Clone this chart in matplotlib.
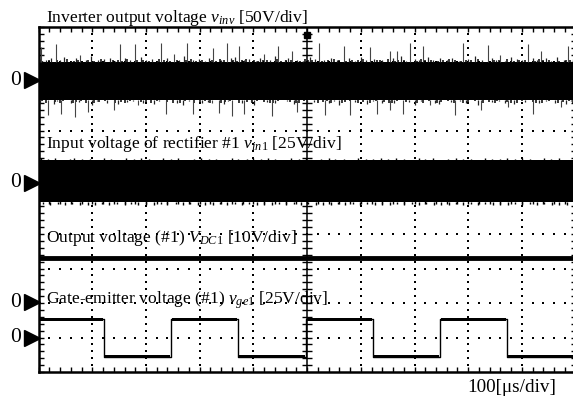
import numpy as np
import matplotlib
matplotlib.use("Agg")
import matplotlib.pyplot as plt

plt.rcParams['font.family'] = ['Liberation Serif', 'DejaVu Serif']
plt.rcParams['mathtext.fontset'] = 'custom'
plt.rcParams['mathtext.rm'] = 'Liberation Serif'
plt.rcParams['mathtext.it'] = 'Liberation Serif:italic'
plt.rcParams['mathtext.bf'] = 'Liberation Serif:bold'

# ---------------- scope settings ----------------
time_per_div = 100.0          # us/div
n_hdiv = 10
n_vdiv = 10
ch_zero = [8.45, 5.49, 2.02, 0.99]     # ground marker level of each channel [div]
ch_scale = [50.0, 25.0, 10.0, 25.0]    # V/div

# ---------------- Ch1: inverter output voltage v_inv ----------------
vinv_band = [-28.5, 27.0]
vinv_up_t = [5, 32, 78, 151, 179, 228, 253, 277, 325, 350, 373, 420, 446, 472,
             523, 569, 617, 654, 667, 691, 716, 790, 837, 859, 911, 936, 986]
vinv_up_v = [49, 53, 37, 53, 53, 55, 39, 54, 47, 54, 50, 39, 50, 42,
             54, 50, 49, 42, 42, 54, 50, 55, 52, 37, 53, 42, 50]
vinv_dn_t = [17, 41, 67, 92, 140, 185, 238, 288, 322, 336, 360, 383, 434, 481,
             533, 580, 630, 654, 679, 728, 775, 824, 874, 921, 973]
vinv_dn_v = [-50, -48, -53, -45, -43, -35, -48, -48, -33, -47, -52, -48, -52, -45,
             -50, -50, -48, -43, -48, -36, -50, -43, -39, -48, -38]
vinv_fz_up_t = [2, 14, 23, 40, 47, 60, 70, 88, 97, 110, 122, 133, 142, 160, 170, 190,
                200, 212, 220, 240, 262, 270, 288, 298, 310, 318, 340, 358, 365, 382,
                392, 405, 412, 430, 440, 458, 465, 482, 492, 505, 515, 532, 545, 555,
                578, 590, 600, 610, 625, 640, 660, 675, 685, 700, 708, 725, 735, 748,
                760, 770, 782, 800, 812, 825, 845, 852, 868, 880, 890, 900, 920, 928,
                945, 955, 965, 978, 995]
vinv_fz_up_v = [31, 29, 33, 30, 34, 28, 32, 30, 35, 29, 31, 33, 28, 32, 30, 34,
                29, 31, 28, 33, 30, 35, 29, 31, 28, 33, 30, 32, 34, 29,
                31, 28, 33, 30, 35, 29, 32, 30, 28, 34, 31, 29, 33, 30,
                32, 28, 34, 30, 31, 29, 33, 35, 28, 31, 30, 34, 29, 32,
                30, 33, 28, 31, 35, 29, 32, 30, 28, 34, 31, 29, 33, 30,
                32, 28, 34, 30, 31]
vinv_fz2_up_t = [7, 19, 27, 35, 52, 65, 74, 83, 92, 104, 116, 127, 138, 147, 155, 165,
                 175, 184, 195, 206, 216, 225, 234, 245, 257, 266, 275, 283, 293, 304,
                 314, 322, 330, 337, 345, 354, 362, 370, 378, 387, 397, 402, 409, 417,
                 425, 435, 444, 452, 461, 470, 478, 487, 497, 501, 510, 519, 527, 538,
                 550, 560, 566, 573, 583, 595, 605, 615, 620, 630, 635, 645, 650, 663,
                 670, 680, 695, 704, 713, 720, 730, 740, 744, 754, 765, 775, 779, 787,
                 795, 806, 818, 830, 840, 848, 857, 863, 873, 885, 895, 905, 912, 925,
                 932, 940, 950, 960, 970, 982, 990, 998]
vinv_fz2_up_v = [28, 30, 27, 29, 31, 28, 30, 27, 29, 28, 31, 27, 30, 29, 28, 31,
                 27, 29, 30, 28, 27, 31, 29, 28, 30, 27, 29, 31, 28, 30,
                 27, 29, 28, 31, 30, 27, 29, 28, 30, 31, 27, 29, 28, 30,
                 29, 27, 31, 28, 30, 29, 27, 28, 31, 30, 29, 27, 28, 30,
                 31, 29, 27, 28, 30, 29, 31, 27, 28, 30, 29, 27, 31, 28,
                 30, 29, 27, 28, 31, 30, 29, 27, 28, 30, 31, 29, 27, 28,
                 30, 29, 31, 27, 28, 30, 29, 27, 31, 28, 30, 29, 27, 28,
                 31, 30, 29, 27, 28, 30, 29, 31]
vinv_fz_dn_t = [3, 10, 28, 35, 52, 60, 75, 83, 100, 108, 118, 128, 148, 158, 165, 175,
                195, 205, 215, 225, 245, 258, 268, 280, 295, 305, 315, 330, 345, 352,
                368, 378, 395, 402, 415, 425, 440, 452, 462, 475, 490, 500, 512, 525,
                540, 550, 560, 575, 590, 600, 612, 622, 640, 648, 662, 672, 690, 700,
                712, 722, 738, 745, 758, 768, 785, 795, 808, 818, 832, 845, 858, 868,
                885, 895, 905, 915, 932, 945, 955, 962, 982, 992]
vinv_fz_dn_v = [-32, -29, -34, -30, -28, -33, -31, -29, -35, -30, -28, -32, -34, -29,
                -31, -30, -33, -28, -34, -30, -29, -32, -35, -30, -28, -33, -31, -29,
                -34, -30, -28, -32, -30, -35, -29, -31, -33, -28, -30, -34, -29, -32,
                -31, -28, -33, -30, -35, -29, -31, -28, -34, -30, -32, -29, -33, -28,
                -31, -35, -30, -29, -32, -34, -28, -31, -30, -33, -29, -35, -28, -31,
                -30, -32, -34, -29, -31, -28, -33, -30, -29, -32, -34, -30]
vinv_fz2_dn_t = [6, 14, 21, 31, 40, 46, 56, 64, 70, 79, 88, 95, 104, 113, 123, 134,
                 143, 153, 161, 170, 180, 190, 200, 210, 220, 230, 240, 250, 263, 273,
                 285, 290, 300, 310, 320, 326, 340, 348, 356, 364, 373, 388, 398, 407,
                 411, 420, 430, 436, 446, 457, 468, 480, 485, 495, 506, 520, 529, 537,
                 545, 555, 565, 570, 580, 585, 595, 605, 617, 628, 635, 644, 652, 658,
                 667, 676, 685, 704, 716, 727, 732, 741, 750, 762, 773, 780, 790, 800,
                 812, 823, 828, 838, 850, 853, 863, 872, 880, 890, 900, 910, 920, 926,
                 938, 950, 958, 967, 977, 987, 996]
vinv_fz2_dn_v = [-30, -32, -29, -31, -33, -30, -29, -32, -31, -30, -33, -29, -32, -31,
                 -30, -29, -33, -31, -32, -30, -29, -31, -33, -32, -30, -29, -31, -32,
                 -33, -30, -29, -32, -31, -30, -33, -29, -32, -31, -30, -29, -33, -31,
                 -32, -30, -29, -31, -33, -32, -30, -29, -31, -32, -33, -30, -29, -32,
                 -31, -30, -33, -29, -32, -31, -30, -29, -33, -31, -32, -30, -29, -31,
                 -33, -32, -30, -29, -31, -32, -33, -30, -29, -32, -31, -30, -33, -29,
                 -32, -31, -30, -29, -33, -31, -32, -30, -29, -31, -33, -32, -30, -29,
                 -31, -32, -33, -30, -29, -32, -31, -30, -33, -29, -32]

# ---------------- Ch2: rectifier #1 input voltage v_in1 ----------------
vin_band = [-14.3, 16.2]
vin_fz_up_t = [4, 18, 30, 45, 58, 66, 80, 95, 110, 122, 135, 150, 163, 178, 190, 205,
               220, 232, 246, 260, 275, 290, 302, 318, 330, 345, 360, 372, 388, 400,
               415, 428, 440, 455, 470, 485, 498, 512, 525, 540, 552, 568, 580, 595,
               610, 622, 638, 650, 665, 680, 692, 708, 720, 735, 750, 762, 778, 790,
               805, 818, 832, 845, 860, 872, 888, 900, 915, 928, 942, 955, 970, 985]
vin_fz_up_v = [17.5, 16.8, 17.9, 16.5, 17.2, 18.0, 16.9, 17.4, 16.6, 17.8, 17.0, 16.7,
               17.6, 16.9, 18.1, 17.2, 16.6, 17.5, 16.8, 17.9, 16.7, 17.3, 18.0, 16.9,
               17.4, 16.6, 17.8, 17.1, 16.8, 17.6, 16.9, 18.1, 17.2, 16.7, 17.5, 16.8,
               17.9, 16.6, 17.3, 18.0, 16.9, 17.4, 16.7, 17.8, 17.0, 16.8, 17.6, 16.9,
               18.1, 17.2, 16.6, 17.5, 16.8, 17.9, 16.7, 17.3, 18.0, 16.9, 17.4, 16.6,
               17.8, 17.1, 16.8, 17.6, 16.9, 18.1, 17.2, 16.7, 17.5, 16.8, 17.9, 16.6]
vin_fz_dn_t = [8, 22, 37, 50, 63, 78, 92, 105, 118, 132, 146, 160, 172, 186, 200, 214,
               228, 240, 255, 268, 282, 296, 310, 324, 338, 350, 365, 378, 392, 406,
               420, 434, 448, 460, 475, 488, 502, 516, 530, 544, 558, 570, 585, 598,
               612, 626, 640, 654, 668, 680, 695, 708, 722, 736, 750, 764, 778, 790,
               805, 818, 832, 846, 860, 874, 888, 900, 915, 928, 942, 956, 970, 984]
vin_fz_dn_v = [-15.8, -16.4, -15.5, -16.1, -15.7, -16.5, -15.9, -16.2, -15.6, -16.4,
               -15.8, -16.0, -15.5, -16.3, -15.9, -16.1, -15.7, -16.5, -15.8, -16.2,
               -15.6, -16.4, -15.9, -16.0, -15.5, -16.3, -15.8, -16.1, -15.7, -16.5,
               -15.9, -16.2, -15.6, -16.4, -15.8, -16.0, -15.5, -16.3, -15.9, -16.1,
               -15.7, -16.5, -15.8, -16.2, -15.6, -16.4, -15.9, -16.0, -15.5, -16.3,
               -15.8, -16.1, -15.7, -16.5, -15.9, -16.2, -15.6, -16.4, -15.8, -16.0,
               -15.5, -16.3, -15.9, -16.1, -15.7, -16.5, -15.8, -16.2, -15.6, -16.4,
               -15.9, -16.0]

# ---------------- Ch3: rectifier #1 output voltage V_DC1 ----------------
vdc_level = 12.9
vdc_ripple = 0.5

# ---------------- Ch4: gate-emitter voltage v_ge1 ----------------
vge_high = 13.4
vge_low = -13.6
vge_edges_t = [122, 247, 371, 498, 623, 748, 872]   # alternating fall / rise, starts high
vge_ripple = 0.9

# ---------------- texts ----------------
title_ch1 = r'Inverter output voltage $v_{inv}$ [50V/div]'
label_ch2 = r'Input voltage of rectifier #1 $v_{in\mathrm{1}}$ [25V/div]'
label_ch3 = r'Output voltage (#1) $V_{DC\mathrm{1}}$ [10V/div]'
label_ch4 = r'Gate-emitter voltage (#1) $v_{ge\mathrm{1}}$ [25V/div]'
time_label = '100[\u03bcs/div]'

W, H = 573, 398
fig = plt.figure(figsize=(W / 100, H / 100), dpi=100)
ax_l, ax_r, ax_t, ax_b = 38.6, 575.6, 27.0, 372.0
ax = fig.add_axes([ax_l / W, 1 - ax_b / H, (ax_r - ax_l) / W, (ax_b - ax_t) / H])
ax.set_xlim(0, n_hdiv)
ax.set_ylim(0, n_vdiv)


def to_x(t):
    return np.asarray(t, dtype=float) / time_per_div


def to_y(v, ch):
    return ch_zero[ch] + np.asarray(v, dtype=float) / ch_scale[ch]


def spikes(t, v, base, ch, **kw):
    n = min(len(t), len(v))
    ax.vlines(to_x(t[:n]), to_y(base, ch), to_y(v[:n], ch), zorder=3, **kw)


# ---- graticule ----
sub = np.arange(0.2, n_vdiv, 0.2)
subx = np.arange(0.2, n_hdiv, 0.2)
for i in range(1, n_hdiv):
    if i == 5:
        continue
    ax.plot(np.full_like(sub, i), sub, ls='none', marker='s', ms=1.6, mew=0, color='k', zorder=1)
for j in range(1, n_vdiv):
    if j == 5:
        continue
    ax.plot(subx, np.full_like(subx, j), ls='none', marker='s', ms=1.6, mew=0, color='k', zorder=1)
ax.axvline(5, color='k', lw=1.1, zorder=1)
ax.axhline(5, color='k', lw=1.1, zorder=1)
ax.plot(subx, np.full_like(subx, 5), ls='none', marker='|', ms=6, mew=1.0, color='k', zorder=1)
ax.plot(np.full_like(sub, 5), sub, ls='none', marker='_', ms=7, mew=1.0, color='k', zorder=1)
ax.plot([5], [9.78], ls='none', marker='s', ms=4.5, color='k', zorder=2)

ax.set_xticks(np.arange(0, n_hdiv + 0.01, 1))
ax.set_yticks(np.arange(0, n_vdiv + 0.01, 1))
ax.set_xticks(np.arange(0, n_hdiv + 0.01, 0.2), minor=True)
ax.set_yticks(np.arange(0, n_vdiv + 0.01, 0.2), minor=True)
ax.tick_params(which='both', direction='in', top=True, right=True, length=3.5, width=1.0,
               labelbottom=False, labelleft=False)
for s in ax.spines.values():
    s.set_linewidth(1.8)

# ---- Ch1 ----
ax.fill_between([0, n_hdiv], to_y(vinv_band[0], 0), to_y(vinv_band[1], 0), color='k', lw=0, zorder=3)
spikes(vinv_fz2_up_t, vinv_fz2_up_v, vinv_band[1], 0, color='k', lw=1.1)
spikes(vinv_fz2_dn_t, vinv_fz2_dn_v, vinv_band[0], 0, color='k', lw=1.1)
spikes(vinv_fz_up_t, vinv_fz_up_v, vinv_band[1], 0, color='#222222', lw=0.9)
spikes(vinv_fz_dn_t, vinv_fz_dn_v, vinv_band[0], 0, color='#222222', lw=0.9)
spikes(vinv_up_t, vinv_up_v, vinv_band[1], 0, color='#444444', lw=0.8)
spikes(vinv_dn_t, vinv_dn_v, vinv_band[0], 0, color='#444444', lw=0.8)

# ---- Ch2 ----
ax.fill_between([0, n_hdiv], to_y(vin_band[0], 1), to_y(vin_band[1], 1), color='k', lw=0, zorder=3)
spikes(vin_fz_up_t, vin_fz_up_v, vin_band[1], 1, color='k', lw=1.0)
spikes(vin_fz_dn_t, vin_fz_dn_v, vin_band[0], 1, color='k', lw=1.0)

# ---- Ch3 ----
ax.fill_between([0, n_hdiv], to_y(vdc_level - vdc_ripple, 2), to_y(vdc_level + vdc_ripple, 2),
                color='k', lw=0.6, zorder=3)

# ---- Ch4 ----
edges = to_x(vge_edges_t)
xs = [0.0]
ys = [vge_high]
lvl = vge_high
for e in edges:
    xs += [e, e]
    nxt = vge_low if lvl == vge_high else vge_high
    ys += [lvl, nxt]
    lvl = nxt
xs.append(n_hdiv)
ys.append(lvl)
ax.plot(xs, to_y(ys, 3), color='k', lw=1.0, zorder=3)
seg_x = [0.0] + list(edges) + [n_hdiv]
lvl = vge_high
for a, b in zip(seg_x[:-1], seg_x[1:]):
    ax.fill_between([a + 0.02, b - 0.02], to_y(lvl - vge_ripple, 3), to_y(lvl + vge_ripple, 3),
                    color='k', lw=0, zorder=3)
    lvl = vge_low if lvl == vge_high else vge_high

# ---- ground markers ----
for ch in range(4):
    y0 = ch_zero[ch]
    ax.plot([-0.12], [y0], marker='>', ms=11, color='k', clip_on=False, zorder=5)
    ax.text(-0.42, y0, '0', fontsize=15.5, ha='center', va='center', clip_on=False)

# ---- labels ----
fig.text(46 / W, 1 - 21.7 / H, title_ch1, fontsize=12.6, ha='left', va='baseline')
ax.text(0.138, (ax_b - 148.3) / 34.5, label_ch2, fontsize=12.6, ha='left', va='baseline', zorder=6)
ax.text(0.138, (ax_b - 241.5) / 34.5, label_ch3, fontsize=12.6, ha='left', va='baseline', zorder=6)
ax.text(0.138, (ax_b - 304.0) / 34.5, label_ch4, fontsize=12.6, ha='left', va='baseline', zorder=6)
fig.text(467 / W, 1 - 391.7 / H, time_label, fontsize=13.8, ha='left', va='baseline')

fig.savefig('out.png', dpi=100)
